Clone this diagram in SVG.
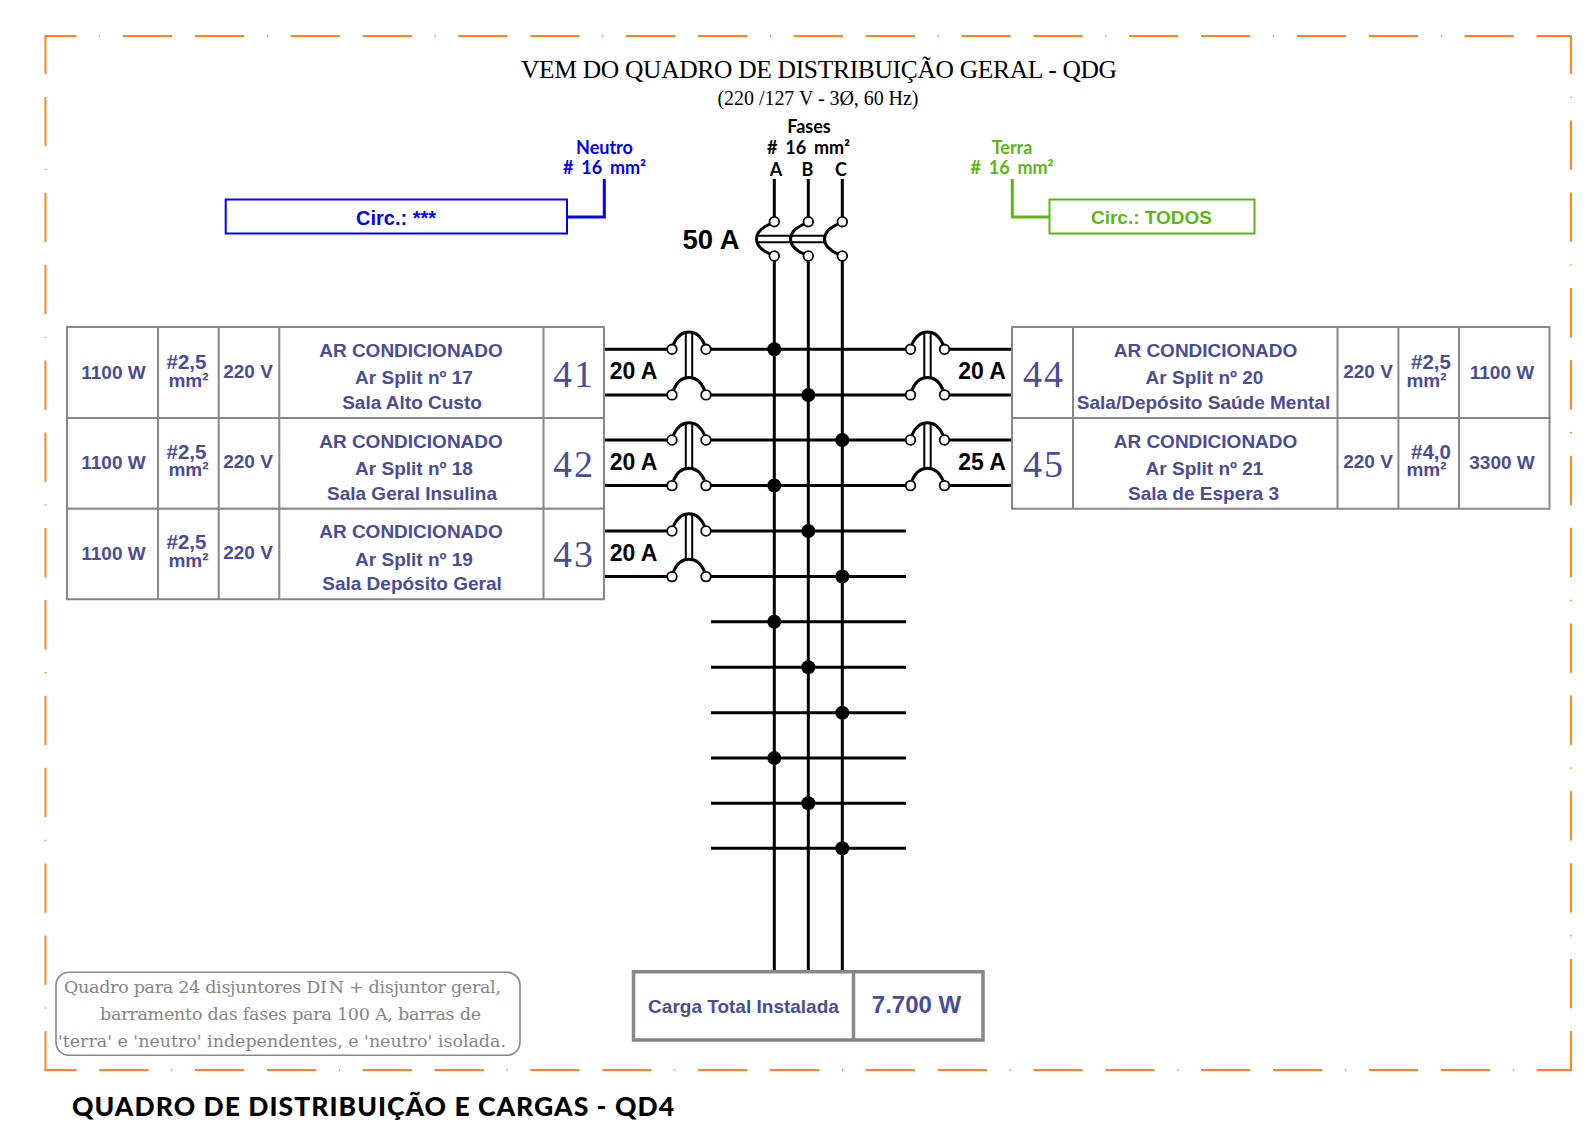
<svg xmlns="http://www.w3.org/2000/svg" xmlns:xlink="http://www.w3.org/1999/xlink" width="1590" height="1124" viewBox="0 0 1590 1124">
<style>
text{font-family:"Liberation Sans",Arial,sans-serif;text-anchor:middle}
.f{fill:none;stroke:#ff8614;stroke-width:2}
.d{stroke-dasharray:49.3 22.7 49.3 22.7 1 22.7}
.cell{fill:#fff;stroke:#888;stroke-width:2}
.t{fill:#4b4c97;font-weight:700;font-size:19px}
.c{fill:#4b4c97;font-weight:700;font-size:20.5px}
.n{fill:#4b4c97;font-family:"Liberation Serif",serif;font-size:38px;letter-spacing:2px}
.w{fill:none;stroke:#000;stroke-width:3}
.h{fill:none;stroke:#000;stroke-width:3}
.a{fill:#000;font-weight:700;font-size:23px}
.h2{font-family:Lato,"Noto Sans",sans-serif;font-weight:700;font-size:18px;word-spacing:3.5px}
.o{fill:#fff;stroke:#000;stroke-width:1.8}
.arc{fill:none;stroke:#000;stroke-width:3}
.bar{fill:none;stroke:#000;stroke-width:2}
.note{fill:#858585;font-family:"DejaVu Serif",serif;font-size:17.5px;text-anchor:start}
</style>
<defs>
<g id="brk">
<path class="arc" d="M-15.5-5C-12-13-7-17.300 0-17.300C7-17.300 12-13 15.500-5"/>
<path class="arc" d="M-15.500 40.500C-12 32.500-7 28.300 0 28.300C7 28.300 12 32.500 15.500 40.500"/>
<path class="bar" d="M-3.200-17V28M3.200-17V28"/>
<circle class="o" cx="-17" r="4.800"/><circle class="o" cx="17" r="4.800"/>
<circle class="o" cx="-17" cy="45.600" r="4.800"/><circle class="o" cx="17" cy="45.600" r="4.800"/>
</g>
<circle id="dot" r="7" fill="#000"/>
</defs>

<g id="frame">
<line class="f d" x1="44.500" y1="36" x2="1572" y2="36" stroke-dashoffset="89.300"/>
<line class="f d" x1="45.500" y1="35" x2="45.500" y2="1071" stroke-dashoffset="10"/>
<line class="f d" x1="44.500" y1="1070" x2="1572" y2="1070" stroke-dashoffset="17.300"/>
<line class="f d" x1="1571" y1="35" x2="1571" y2="1071" stroke-dashoffset="82.300"/>
</g>

<g id="title">
<text x="819" y="78" style="font-family:'Liberation Serif',serif;font-size:25.500px" textLength="596">VEM DO QUADRO DE DISTRIBUIÇÃO GERAL - QDG</text>
<text x="818" y="105" style="font-family:'Liberation Serif',serif;font-size:20px" textLength="201">(220 /127 V - 3Ø, 60 Hz)</text>
</g>

<g id="connectors">
<path class="w" d="M774.300 179V219M808.300 179V219M842.300 179V219"/>
<path class="w" d="M774.300 258V971M808.300 258V971M842.300 258V971"/>
<path class="h" d="M604 349.300H672M706 349.300H910M945 349.300H1012M604 395H672M706 395H910M945 395H1012M604 440H672M706 440H910M945 440H1012M604 485.500H672M706 485.500H910M945 485.500H1012M604 531H672M706 531H906M604 576.500H672M706 576.500H906"/>
<path class="h" d="M711 621.700H906M711 667.300H906M711 712.700H906M711 758H906M711 803.300H906M711 848.300H906"/>
<path fill="none" stroke="#0000ff" stroke-width="3" d="M604.300 179V217H567"/>
<path fill="none" stroke="#5cb811" stroke-width="3" d="M1012.300 179V217H1049"/>
<use xlink:href="#dot" href="#dot" x="774.300" y="349.300"/>
<use xlink:href="#dot" href="#dot" x="808.300" y="395"/>
<use xlink:href="#dot" href="#dot" x="842.300" y="440"/>
<use xlink:href="#dot" href="#dot" x="774.300" y="485.500"/>
<use xlink:href="#dot" href="#dot" x="808.300" y="531"/>
<use xlink:href="#dot" href="#dot" x="842.300" y="576.500"/>
<use xlink:href="#dot" href="#dot" x="774.300" y="621.700"/>
<use xlink:href="#dot" href="#dot" x="808.300" y="667.300"/>
<use xlink:href="#dot" href="#dot" x="842.300" y="712.700"/>
<use xlink:href="#dot" href="#dot" x="774.300" y="758"/>
<use xlink:href="#dot" href="#dot" x="808.300" y="803.300"/>
<use xlink:href="#dot" href="#dot" x="842.300" y="848.300"/>
</g>

<g id="main-breaker">
<path class="arc" d="M770 224C761 228 756.500 233 756.500 239C756.500 245 761 250 770 254"/>
<path class="arc" d="M804 224C795 228 790.500 233 790.500 239C790.500 245 795 250 804 254"/>
<path class="arc" d="M838 224C829 228 824.500 233 824.500 239C824.500 245 829 250 838 254"/>
<path class="bar" d="M757 235.700H825M757 242.300H825"/>
<circle class="o" cx="774.300" cy="221.700" r="4.800"/><circle class="o" cx="808.300" cy="221.700" r="4.800"/><circle class="o" cx="842.300" cy="221.700" r="4.800"/>
<circle class="o" cx="774.300" cy="256" r="4.800"/><circle class="o" cx="808.300" cy="256" r="4.800"/><circle class="o" cx="842.300" cy="256" r="4.800"/>
<text class="a" x="711" y="249" style="font-size:27.500px">50 A</text>
</g>

<g id="b41"><use xlink:href="#brk" href="#brk" x="689" y="349.300"/><text class="a" x="633.500" y="378.700">20 A</text></g>
<g id="b42"><use xlink:href="#brk" href="#brk" x="689" y="440"/><text class="a" x="633.500" y="469.500">20 A</text></g>
<g id="b43"><use xlink:href="#brk" href="#brk" x="689" y="531"/><text class="a" x="633.500" y="560.500">20 A</text></g>
<g id="b44"><use xlink:href="#brk" href="#brk" x="927.500" y="349.300"/><text class="a" x="982" y="378.700">20 A</text></g>
<g id="b45"><use xlink:href="#brk" href="#brk" x="927.500" y="440"/><text class="a" x="982" y="469.500">25 A</text></g>

<g id="labels">
<g fill="#0000ff"><text x="604.500" y="153.500" class="h2">Neutro</text><text x="604.500" y="174" class="h2"># 16 mm²</text></g>
<g fill="#000"><text x="809" y="133" class="h2">Fases</text><text x="808.500" y="154" class="h2"># 16 mm²</text><text x="776" y="176" class="h2">A</text><text x="807.500" y="176" class="h2">B</text><text x="841" y="176" class="h2">C</text></g>
<g fill="#5cb811"><text x="1012" y="153.500" class="h2">Terra</text><text x="1012" y="174" class="h2"># 16 mm²</text></g>
</g>

<g id="circ-neutro"><rect x="225.700" y="199.500" width="341.300" height="34" fill="#fff" stroke="#0000ff" stroke-width="2"/><text x="396" y="224.500" font-size="20" font-weight="700" fill="#0000ff">Circ.: ***</text></g>
<g id="circ-terra"><rect x="1049.500" y="199.500" width="205" height="34" fill="#fff" stroke="#5cb811" stroke-width="2"/><text x="1151.500" y="224" font-size="19" font-weight="700" fill="#5cb811">Circ.: TODOS</text></g>

<g id="row41">
<path class="cell" d="M67 327H604V418H67ZM158 327V418M218.700 327V418M279.300 327V418M543.500 327V418"/>
<text class="t" x="113.500" y="379">1100 W</text><text class="c" x="186.500" y="369">#2,5</text><text class="t" x="188.500" y="386.500">mm²</text><text class="t" x="248" y="378">220 V</text>
<text class="t" x="411" y="356.500">AR CONDICIONADO</text><text class="t" x="414" y="384">Ar Split nº 17</text><text class="t" x="412" y="408.500">Sala Alto Custo</text><text class="n" x="574" y="387">41</text>
</g>
<g id="row42">
<path class="cell" d="M67 418H604V508.700H67ZM158 418V508.700M218.700 418V508.700M279.300 418V508.700M543.500 418V508.700"/>
<text class="t" x="113.500" y="468.500">1100 W</text><text class="c" x="186.500" y="458.500">#2,5</text><text class="t" x="188.500" y="476">mm²</text><text class="t" x="248" y="468">220 V</text>
<text class="t" x="411" y="447.500">AR CONDICIONADO</text><text class="t" x="414" y="474.500">Ar Split nº 18</text><text class="t" x="412" y="499.500">Sala Geral Insulina</text><text class="n" x="574" y="477">42</text>
</g>
<g id="row43">
<path class="cell" d="M67 508.700H604V599.300H67ZM158 508.700V599.300M218.700 508.700V599.300M279.300 508.700V599.300M543.500 508.700V599.300"/>
<text class="t" x="113.500" y="559.500">1100 W</text><text class="c" x="186.500" y="549">#2,5</text><text class="t" x="188.500" y="567">mm²</text><text class="t" x="248" y="558.500">220 V</text>
<text class="t" x="411" y="538">AR CONDICIONADO</text><text class="t" x="414" y="565.500">Ar Split nº 19</text><text class="t" x="412" y="589.500">Sala Depósito Geral</text><text class="n" x="574" y="567">43</text>
</g>
<g id="row44">
<path class="cell" d="M1012 327H1549.500V418H1012ZM1073 327V418M1337.500 327V418M1398.400 327V418M1459 327V418"/>
<text class="n" x="1044" y="387">44</text><text class="t" x="1205.500" y="356.500">AR CONDICIONADO</text><text class="t" x="1204.500" y="384">Ar Split nº 20</text><text class="t" x="1203.500" y="408.500">Sala/Depósito Saúde Mental</text>
<text class="t" x="1368" y="378">220 V</text><text class="c" x="1431" y="369">#2,5</text><text class="t" x="1426.500" y="386.500">mm²</text><text class="t" x="1502" y="379">1100 W</text>
</g>
<g id="row45">
<path class="cell" d="M1012 418H1549.500V508.700H1012ZM1073 418V508.700M1337.500 418V508.700M1398.400 418V508.700M1459 418V508.700"/>
<text class="n" x="1044" y="477">45</text><text class="t" x="1205.500" y="447.500">AR CONDICIONADO</text><text class="t" x="1204.500" y="474.500">Ar Split nº 21</text><text class="t" x="1203.500" y="499.500">Sala de Espera 3</text>
<text class="t" x="1368" y="468">220 V</text><text class="c" x="1431" y="458.500">#4,0</text><text class="t" x="1426.500" y="476">mm²</text><text class="t" x="1502" y="468.500">3300 W</text>
</g>

<g id="total">
<path fill="#fff" stroke="#888" stroke-width="3.500" d="M633.500 971.700H983V1040H633.500ZM853.500 971.700V1040"/>
<text class="t" x="743.500" y="1012.500">Carga Total Instalada</text>
<text class="t" x="916.500" y="1012.500" style="font-size:24px">7.700 W</text>
</g>

<g id="note">
<rect x="56" y="972.300" width="464" height="83" rx="13" fill="#fff" stroke="#888" stroke-width="1.600"/>
<text class="note" x="64" y="992.500" textLength="437">Quadro para 24 disjuntores DI<tspan dx="2">N</tspan> + disjuntor geral,</text>
<text class="note" x="100" y="1020" textLength="381">barramento das fases para 100 A, barras de</text>
<text class="note" x="58" y="1046.500" textLength="448">'terra' e 'neutro' independentes, e 'neutro' isolada.</text>
</g>

<text id="footer" x="72" y="1115.700" style="font-family:Lato,sans-serif;font-weight:900;font-size:26.500px;text-anchor:start" textLength="602">QUADRO DE DISTRIBUIÇÃO E CARGAS - QD4</text>
</svg>
